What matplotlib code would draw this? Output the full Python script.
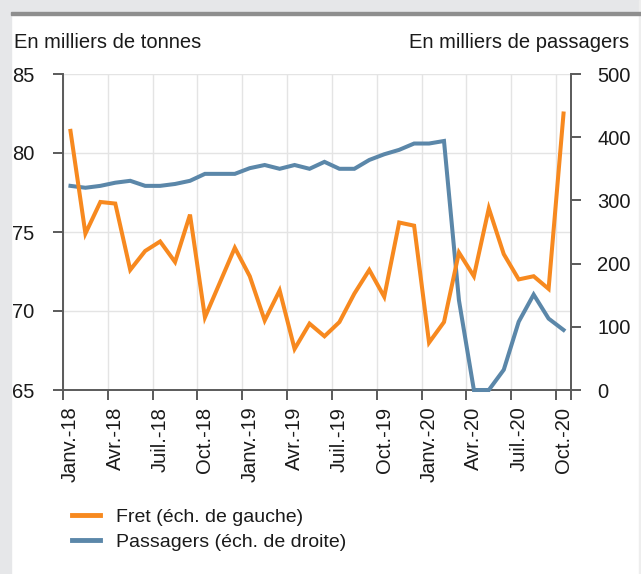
import numpy as np
import matplotlib.pyplot as plt
from matplotlib.patches import Rectangle
from matplotlib.lines import Line2D

# Données : fret aérien (milliers de tonnes) et passagers (milliers), janv. 2018 - oct. 2020
mois = ["Janv.-18", "Févr.-18", "Mars-18", "Avr.-18", "Mai-18", "Juin-18",
        "Juil.-18", "Août-18", "Sept.-18", "Oct.-18", "Nov.-18", "Déc.-18",
        "Janv.-19", "Févr.-19", "Mars-19", "Avr.-19", "Mai-19", "Juin-19",
        "Juil.-19", "Août-19", "Sept.-19", "Oct.-19", "Nov.-19", "Déc.-19",
        "Janv.-20", "Févr.-20", "Mars-20", "Avr.-20", "Mai-20", "Juin-20",
        "Juil.-20", "Août-20", "Sept.-20", "Oct.-20"]

fret = [81.4, 74.9, 76.9, 76.8, 72.6, 73.8, 74.4, 73.1, 76.1, 69.6,
        71.8, 74.0, 72.2, 69.4, 71.3, 67.6, 69.2, 68.4, 69.3, 71.1,
        72.6, 70.9, 75.6, 75.4, 68.0, 69.3, 73.7, 72.2, 76.5, 73.6,
        72.0, 72.2, 71.4, 82.5]

passagers = [323, 320, 323, 328, 331, 323, 323, 326, 331, 342,
             342, 342, 351, 356, 350, 356, 350, 361, 350, 350,
             364, 373, 380, 390, 390, 394, 142, 0, 0, 32,
             108, 151, 113, 95]

orange = "#f7891f"
bleu = "#5b87a9"
gris = "#5a5a5a"
texte = "#1a1a1a"

plt.rcParams["font.family"] = ["Liberation Sans", "DejaVu Sans"]

fig = plt.figure(figsize=(6.41, 5.74), dpi=100)

# cadre gris clair autour du graphique
fig.patches.append(Rectangle((0, 0), 10.5 / 641, 1, transform=fig.transFigure,
                             color="#e6e7e9", zorder=-10))
fig.patches.append(Rectangle((0, 1 - 12.5 / 574), 1, 12.5 / 574, transform=fig.transFigure,
                             color="#e6e7e9", zorder=-10))
fig.patches.append(Rectangle((10.5 / 641, 1 - 15.3 / 574), 1, 2.8 / 574, transform=fig.transFigure,
                             color="#8e8e8e", zorder=-9))
fig.patches.append(Rectangle((639 / 641, 0), 2 / 641, 1, transform=fig.transFigure,
                             color="#eeeeee", zorder=-10))

pos = [63 / 641, 1 - 390 / 574, (571 - 63) / 641, (390 - 74) / 574]
ax = fig.add_axes(pos)
axp = ax.twinx()
axf = fig.add_axes(pos, sharex=ax, sharey=ax)

ax.set_zorder(0)
axp.set_zorder(1)
axf.set_zorder(2)
axp.patch.set_visible(False)
axf.patch.set_visible(False)
axf.axis("off")

x = np.arange(len(mois))
axp.plot(x, passagers, color=bleu, lw=2.9, solid_joinstyle="miter", clip_on=False)
axf.plot(x, fret, color=orange, lw=2.9, solid_joinstyle="miter")

ax.set_xlim(-0.5, len(mois) - 0.5)
ax.set_ylim(65, 85)
ax.set_yticks([65, 70, 75, 80, 85])
axp.set_ylim(0, 500)
axp.set_yticks([0, 100, 200, 300, 400, 500])

# étiquettes au centre des mois, traits de graduation entre les trimestres
centres = x[::3]
ax.set_xticks(centres)
ax.set_xticklabels([mois[i] for i in centres], rotation=90)
bords = list(np.arange(-0.5, len(mois), 3)) + [len(mois) - 0.5]
ax.set_xticks(bords, minor=True)
ax.tick_params(axis="x", which="major", length=0, pad=12, labelsize=14.5, colors=texte)
ax.tick_params(axis="x", which="minor", length=7, width=1.4, color=gris, direction="out")
ax.tick_params(axis="y", length=7, width=1.4, color=gris, pad=13.5, labelsize=14.5,
               labelcolor=texte)
axp.tick_params(axis="y", length=7, width=1.4, color=gris, pad=12, labelsize=14.5,
                labelcolor=texte)
for lab in axp.get_yticklabels():
    lab.set_horizontalalignment("left")

ax.grid(True, axis="x", which="minor", color="#e4e4e4", lw=1)
ax.grid(True, axis="y", which="major", color="#e4e4e4", lw=1)
ax.grid(False, axis="x", which="major")

for a in (ax, axp):
    a.spines["top"].set_visible(False)
    for s in ("left", "right", "bottom"):
        a.spines[s].set_color(gris)
        a.spines[s].set_linewidth(1.4)
ax.spines["right"].set_visible(False)
axp.spines["left"].set_visible(False)
axp.spines["bottom"].set_visible(False)

fig.text(14 / 641, 1 - 48 / 574, "En milliers de tonnes", fontsize=14.5, color=texte,
         ha="left", va="baseline")
fig.text(629 / 641, 1 - 48 / 574, "En milliers de passagers", fontsize=14.5, color=texte,
         ha="right", va="baseline")

poignees = [Line2D([], [], color=orange, lw=3.5), Line2D([], [], color=bleu, lw=3.5)]
fig.legend(poignees, ["Fret (éch. de gauche)", "Passagers (éch. de droite)"],
           loc="upper left", bbox_to_anchor=(72 / 641, 1 - 508 / 574), frameon=False,
           fontsize=14, handlelength=1.45, handletextpad=0.8, labelspacing=0.38,
           labelcolor=texte, borderaxespad=0, borderpad=0)

fig.savefig("out.png", dpi=100)
